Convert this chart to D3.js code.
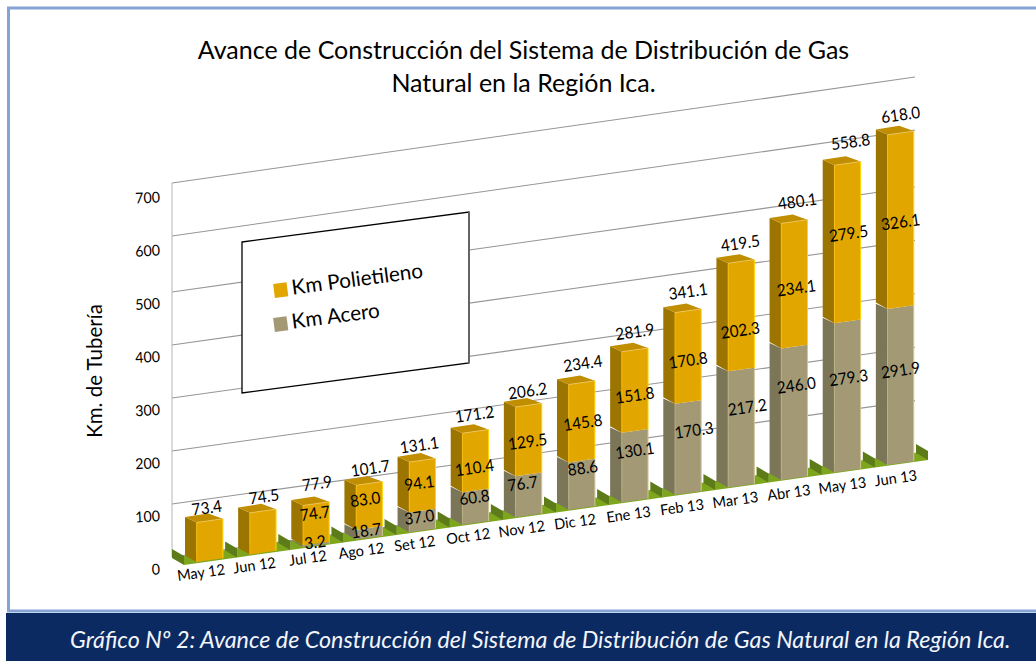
<!DOCTYPE html>
<html><head><meta charset="utf-8">
<script src="https://cdn.jsdelivr.net/npm/d3@7"></script>
<style>html,body{margin:0;padding:0;background:#fff}svg{display:block}text{font-family:Lato,"Open Sans",sans-serif;fill:#000}</style>
</head><body><svg id="c" width="1036" height="661"></svg>
<script>
const categories=["May 12","Jun 12","Jul 12","Ago 12","Set 12","Oct 12","Nov 12","Dic 12","Ene 13","Feb 13","Mar 13","Abr 13","May 13","Jun 13"];
// values printed on the chart
const acero=[0,0,3.2,18.7,37.0,60.8,76.7,88.6,130.1,170.3,217.2,246.0,279.3,291.9];
const polietileno=[73.4,74.5,74.7,83.0,94.1,110.4,129.5,145.8,151.8,170.8,202.3,234.1,279.5,326.1];
const totals=[73.4,74.5,77.9,101.7,131.1,171.2,206.2,234.4,281.9,341.1,419.5,480.1,558.8,618.0];
// heights the bar tops are drawn at, read against the axis (May 13 stands higher than its printed label)
const totalDrawn=[74,78,77.9,101.7,131.1,171.2,206.2,234.4,281.9,341.1,419.5,480.1,575,618.0];
const yTicks=[0,100,200,300,400,500,600,700];
const titleLines=["Avance de Construcción del Sistema de Distribución de Gas","Natural en la Región Ica."];
const caption="Gráfico Nº 2: Avance de Construcción del Sistema de Distribución de Gas Natural en la Región Ica.";
const legendItems=[["Km Polietileno","#e2a600"],["Km Acero","#a39a75"]];

// layout only: hand-placed label nudges [dx, lift] relative to the centred position
const totalNudge=[[-2,-1],[2,2],[2,6],[2,1],[-2,1],[0,3],[0,0],[2,5],[1,4],[1,5],[0,4],[4,6],[4,16],[1,4]];
const poliNudge=[[0,0],[0,0],[0,9],[-3,5],[-2,1],[0,-8],[0,-3],[2,-2],[1,-6],[1,-5],[0,-16],[3,-5],[2,12],[1,-3]];
const aceroNudge=[[0,0],[0,0],[0,1],[-2,1],[-2,2],[0,8],[-5,10],[2,15],[1,14],[7,16],[7,19],[3,26],[2,17],[1,14]];

const svg=d3.select("#c");
const poly=(g,pts,fill,stroke,sw)=>g.append("polygon").attr("points",pts.map(p=>p.join(",")).join(" ")).attr("fill",fill).attr("stroke",stroke||"none").attr("stroke-width",sw||0);
const ANGLE=-8;

// frame and caption band
svg.append("rect").attr("x",8.5).attr("y",8).attr("width",1040).attr("height",603).attr("fill","#fff").attr("stroke","#85a3d3").attr("stroke-width",3);
svg.append("rect").attr("x",6).attr("y",613).attr("width",1030).attr("height",48).attr("fill","#0c2a62");
svg.append("text").attr("x",70).attr("y",648).attr("font-size",23.3).attr("font-style","italic").style("fill","#f2f5fa").text(caption);

// title
titleLines.forEach((t,i)=>svg.append("text").attr("x",523.5).attr("y",59+i*33).attr("text-anchor","middle").attr("font-size",25).text(t));

// scales
const x=d3.scaleBand().domain(categories).range([172,916]);
const gridL=d3.scaleLinear().domain([0,500,600,700]).range([557,292,236,183]);
const gridR=d3.scaleLinear().domain([0,500,600,700]).range([454,187,130,77]);
const h=d3.scaleLinear().domain([0,700]).range([0,374]);
const frontX=c=>x(c)+24.7, FW=26.2;
const baseY=px=>562-0.1404*(px-196.7);
const backY=px=>549-0.1411*(px-172);

// gridlines and left wall
const grid=svg.append("g");
yTicks.forEach(v=>grid.append("line").attr("x1",172).attr("x2",915).attr("y1",gridL(v)).attr("y2",gridR(v)).attr("stroke","#969696").attr("stroke-width",1.1));
grid.append("line").attr("x1",172).attr("x2",172).attr("y1",gridL(700)).attr("y2",gridL(0)).attr("stroke","#b5b5b5").attr("stroke-width",1);

// y axis
const yAxisScale=d3.scaleLinear().domain([0,700]).range([569,197]);
const ax=svg.append("g").attr("transform","translate(160,0)").call(d3.axisLeft(yAxisScale).tickValues(yTicks).tickSize(0).tickPadding(0).tickFormat(d3.format("d")));
ax.select(".domain").remove();
ax.selectAll("text").attr("font-size",15).style("font-family","Lato").attr("transform","rotate(-3) scale(0.95,1)");
svg.append("text").attr("transform","translate(102,371) rotate(-90)").attr("text-anchor","middle").attr("font-size",20.5).text("Km. de Tubería");

// legend
const lg=svg.append("g");
poly(lg,[[242,242],[469,212],[469,363],[242,393]],"#fff","#000",1.3);
lg.append("line").attr("x1",469).attr("x2",469).attr("y1",212).attr("y2",363).attr("stroke","#666").attr("stroke-width",1.8);
legendItems.forEach(([t,c],i)=>{
  const g=lg.append("g").attr("transform",`translate(274,${291+i*34}) rotate(-7.4)`);
  g.append("rect").attr("x",0).attr("y",-7).attr("width",13.5).attr("height",14).attr("fill",c);
  g.append("text").attr("x",18).attr("y",6).attr("font-size",20.7).text(t);
});

// floor
const floor=svg.append("g");
d3.range(categories.length+1).forEach(i=>{
  const tx=172+x.step()*i, b=backY(tx);
  if(i<categories.length){
    const nx=tx+x.step(), nb=backY(nx);
    poly(floor,[[tx+12,b+7],[nx+12,nb+7],[nx+12,nb+16],[tx+12,b+16]],"#7ea61c");
  }
  poly(floor,[[tx,b],[tx+12,b+7],[tx+12,b+16],[tx,b+9]],"#5d7b18");
});

// bars
const bars=svg.append("g");
const labels=svg.append("g");
const fmt=d3.format(".1f");
const label=(px,py,t)=>labels.append("text").attr("transform",`translate(${px},${py}) rotate(${ANGLE}) scale(0.93,1)`).attr("text-anchor","middle").attr("dy","0.35em").attr("font-size",16.5).text(t);
categories.forEach((c,i)=>{
  const fx=frontX(c), y0=baseY(fx);
  const seg=(from,to,front,side)=>{
    if(to<=from) return;
    const a=y0-h(from), b=y0-h(to);
    poly(bars,[[fx,a],[fx,b],[fx-11.7,b-5.4],[fx-11.7,a-6.5]],side);
    poly(bars,[[fx,a],[fx+FW,a-3.7],[fx+FW,b-3.7],[fx,b]],front);
    bars.append("line").attr("x1",fx+FW).attr("x2",fx+FW).attr("y1",a-3.7).attr("y2",b-3.7).attr("stroke",d3.color(front).brighter(0.7)).attr("stroke-width",1);
    bars.append("line").attr("x1",fx).attr("x2",fx).attr("y1",a).attr("y2",b).attr("stroke",d3.color(front).brighter(0.4)).attr("stroke-width",0.8);
  };
  seg(0,acero[i],"#a39a75","#7c7659");
  seg(acero[i],totalDrawn[i],"#e2a600","#9c7400");
  const t=y0-h(totalDrawn[i]);
  poly(bars,[[fx,t],[fx+FW,t-3.7],[fx+FW-14.7,t-9],[fx-11.7,t-5.4]],"#c18e00");
  bars.append("line").attr("x1",fx).attr("x2",fx+FW).attr("y1",t).attr("y2",t-3.7).attr("stroke","#f0c95c").attr("stroke-width",0.8);
  const cx=fx+FW/2-1;
  label(cx+totalNudge[i][0],y0-h(totals[i])-16-totalNudge[i][1],fmt(totals[i]));
  if(i>=2) label(cx+poliNudge[i][0],y0-h(acero[i]+polietileno[i]/2)-3-poliNudge[i][1],fmt(polietileno[i]));
  if(acero[i]>0) label(cx+aceroNudge[i][0],y0-h(acero[i]/2)-3-aceroNudge[i][1],fmt(acero[i]));
  labels.append("text").attr("transform",`translate(${fx+4.3+0.3*i},${y0+10.5+0.2*i}) rotate(${ANGLE}) scale(0.97,1)`).attr("text-anchor","middle").attr("dy","0.35em").attr("font-size",15).text(c);
});
</script></body></html>
